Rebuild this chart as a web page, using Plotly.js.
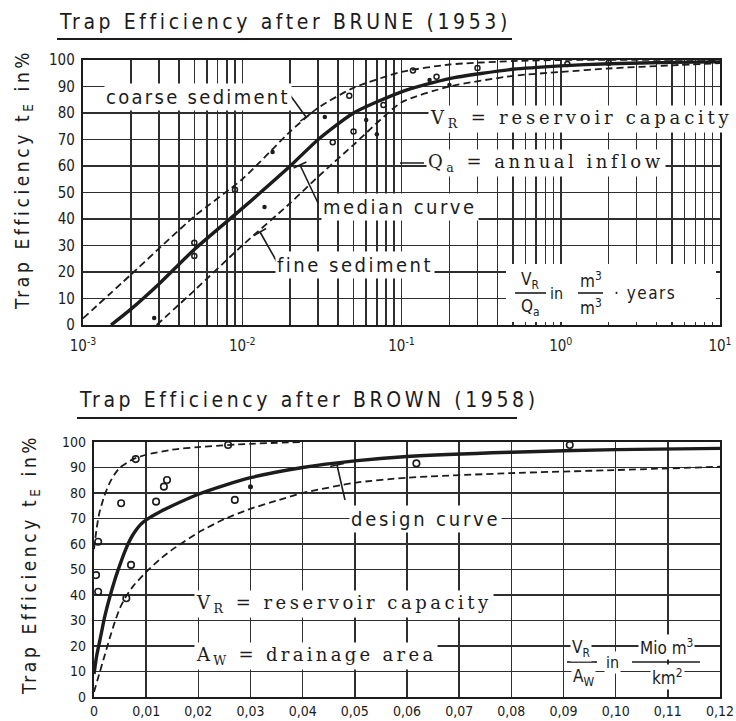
<!DOCTYPE html>
<html><head><meta charset="utf-8">
<script src="https://cdn.plot.ly/plotly-3.0.1.min.js"></script>
<style>html,body{margin:0;padding:0;background:#fff}#chart{width:736px;height:721px}</style>
</head><body><div id="chart"></div>
<script>
// ===== Brune (1953) : trap efficiency vs VR/Qa (log) =====
const bruneMedianX = [0.0015, 0.002, 0.003, 0.005, 0.01, 0.02, 0.03, 0.05, 0.1, 0.2, 0.5, 1, 2, 5, 10];
const bruneMedianY = [0, 6, 15.5, 28.5, 44, 60, 70, 80, 88, 93, 96.5, 97.8, 98.6, 99.1, 99.3];
const bruneCoarseX = [0.001, 0.002, 0.005, 0.01, 0.02, 0.03, 0.05, 0.1, 0.2, 0.5, 1, 10];
const bruneCoarseY = [2.5, 19, 41, 55, 73, 82, 89.5, 95.5, 98.3, 99.6, 100, 100];
const bruneFineX = [0.0029, 0.005, 0.01, 0.02, 0.03, 0.05, 0.1, 0.2, 0.5, 1, 2, 5, 10];
const bruneFineY = [0, 13, 30, 46, 56, 68, 84, 90, 94, 95.5, 96.8, 98, 98.8];
const bruneDotsX = [0.0028, 0.0138, 0.0155, 0.033, 0.06, 0.07, 0.15, 0.2];
const bruneDotsY = [2.6, 44.5, 65.3, 78.5, 77.4, 72, 92.5, 90.6];
const bruneCirclesX = [0.005, 0.005, 0.009, 0.037, 0.047, 0.05, 0.077, 0.166, 0.118, 0.3, 1.1, 2];
const bruneCirclesY = [31, 26, 51, 69, 86.5, 73, 83, 93.7, 96, 97, 98.5, 99];
const bruneDecades = [0.001, 0.01, 0.1, 1, 10];
const bruneDecadeLabels = ['10<sup>-3</sup>', '10<sup>-2</sup>', '10<sup>-1</sup>', '10<sup>0</sup>', '10<sup>1</sup>'];
const bruneMantissas = [2, 3, 4, 5, 6, 7, 8, 9];

// ===== Brown (1958) : trap efficiency vs VR/AW (linear) =====
const brownDesignX = [0, 0.0005, 0.001, 0.0015, 0.002, 0.003, 0.004, 0.005, 0.006, 0.007, 0.008, 0.009, 0.01, 0.0125, 0.015, 0.02, 0.025, 0.03, 0.04, 0.05, 0.06, 0.08, 0.1, 0.12];
const brownDesignY = [9, 16, 21, 26, 31, 39, 46, 52, 57.5, 62, 65.3, 67.8, 69.5, 72.5, 75, 79.5, 83, 86, 90, 92.6, 94.3, 96, 97, 97.5];
const brownUpperX = [0, 0.0005, 0.001, 0.002, 0.003, 0.004, 0.005, 0.0075, 0.01, 0.015, 0.02, 0.03, 0.04];
const brownUpperY = [58, 66, 72, 79, 84, 87.5, 90, 93.3, 95, 97, 98, 99.3, 100];
const brownLowerX = [0, 0.001, 0.002, 0.003, 0.004, 0.005, 0.006, 0.0075, 0.01, 0.0125, 0.015, 0.02, 0.025, 0.03, 0.035, 0.04, 0.05, 0.06, 0.08, 0.1, 0.12];
const brownLowerY = [2, 9, 16, 23, 29.5, 35, 39, 43.5, 49, 53.8, 57.8, 64.5, 69.8, 73.8, 77, 80, 84, 86, 87.8, 89, 90.3];
const brownCirclesX = [0.0257, 0.008, 0.014, 0.0134, 0.0052, 0.0119, 0.027, 0.0008, 0.0071, 0.0004, 0.0008, 0.0062, 0.0618, 0.0912];
const brownCirclesY = [98.8, 93.3, 85.1, 82.5, 76, 76.6, 77.3, 60.9, 51.8, 47.8, 41.3, 38.7, 91.6, 98.8];
const brownDotsX = [0.03];
const brownDotsY = [82.5];
const brownTickVals = [0, 0.01, 0.02, 0.03, 0.04, 0.05, 0.06, 0.07, 0.08, 0.09, 0.10, 0.11, 0.12];
const brownTickText = ['0', '0,01', '0,02', '0,03', '0,04', '0,05', '0,06', '0,07', '0,08', '0,09', '0,10', '0,11', '0,12'];
const percentTicks = [0, 10, 20, 30, 40, 50, 60, 70, 80, 90, 100];

// ---------- layout helpers ----------
const W = 736, H = 721;
const px = v => v / W;
const py = v => 1 - v / H;
const INK = '#1c1c1c';
const GRID = '#2e2e2e';
const SANS = '"DejaVu Sans Condensed", "DejaVu Sans", sans-serif';
const TYPE = '"DejaVu Serif", "Liberation Serif", serif';

// minor log grid (2..9 per decade)
const logMinor = [];
bruneDecades.slice(0, -1).forEach(d => bruneMantissas.forEach(m => logMinor.push(d * m)));

const solid = {color: INK, width: 3.4, shape: 'spline', smoothing: 0.6};
const dashed = {color: INK, width: 1.8, dash: '7px,4px', shape: 'spline', smoothing: 0.6};

const traces = [
  {x: bruneCoarseX, y: bruneCoarseY, mode: 'lines', line: dashed, xaxis: 'x', yaxis: 'y'},
  {x: bruneFineX, y: bruneFineY, mode: 'lines', line: dashed, xaxis: 'x', yaxis: 'y'},
  {x: bruneMedianX, y: bruneMedianY, mode: 'lines', line: solid, xaxis: 'x', yaxis: 'y'},
  {x: bruneDotsX, y: bruneDotsY, mode: 'markers', marker: {color: INK, size: 4.5}, xaxis: 'x', yaxis: 'y'},
  {x: bruneCirclesX, y: bruneCirclesY, mode: 'markers', marker: {symbol: 'circle-open', color: INK, size: 5, line: {width: 1.5, color: INK}}, xaxis: 'x', yaxis: 'y'},
  {x: brownUpperX, y: brownUpperY, mode: 'lines', line: dashed, xaxis: 'x2', yaxis: 'y2'},
  {x: brownLowerX, y: brownLowerY, mode: 'lines', line: dashed, xaxis: 'x2', yaxis: 'y2'},
  {x: brownDesignX, y: brownDesignY, mode: 'lines', line: solid, xaxis: 'x2', yaxis: 'y2'},
  {x: brownCirclesX, y: brownCirclesY, mode: 'markers', marker: {symbol: 'circle-open', color: INK, size: 6.5, line: {width: 1.6, color: INK}}, xaxis: 'x2', yaxis: 'y2'},
  {x: brownDotsX, y: brownDotsY, mode: 'markers', marker: {color: INK, size: 5}, xaxis: 'x2', yaxis: 'y2'}
];

const axisCommon = {
  showgrid: true, gridcolor: GRID, gridwidth: 1.5, zeroline: false,
  showline: true, mirror: true, linecolor: INK, linewidth: 2.2, ticks: '', ticklen: 0,
  fixedrange: true
};
const tickFont = {family: SANS, size: 15, color: INK};

function ann(text, x, y, o) {
  return Object.assign({text: text, x: px(x), y: py(y), xref: 'paper', yref: 'paper', showarrow: false,
    xanchor: 'left', yanchor: 'middle', font: {family: SANS, size: 20, color: INK}}, o || {});
}
function ls(s, sp) { return '<span style="letter-spacing:' + sp + 'px">' + s + '</span>'; }
function line(x0, y0, x1, y1, w) {
  return {type: 'line', xref: 'paper', yref: 'paper', x0: px(x0), y0: py(y0), x1: px(x1), y1: py(y1),
    line: {color: INK, width: w || 1.6}, layer: 'above'};
}
function tbar(x0, y0, x1, y1, half) {
  const dx = x1 - x0, dy = y1 - y0, L = Math.hypot(dx, dy);
  const nx = -dy / L, ny = dx / L;
  return [line(x0, y0, x1, y1), line(x1 - nx * half, y1 - ny * half, x1 + nx * half, y1 + ny * half)];
}

const shapes = [
  line(57, 39, 512, 39, 2),
  line(77, 418, 517, 418, 2),
  {type: 'rect', xref: 'paper', yref: 'paper', x0: px(506), x1: px(716), y0: py(322), y1: py(264),
    fillcolor: '#ffffff', line: {width: 0}, layer: 'above'},
  ...tbar(290, 95, 306, 117, 7),
  ...tbar(318, 203, 300, 165, 7),
  ...tbar(277, 262, 260, 232, 7),
  ...tbar(345, 500, 337, 465, 7),
  line(400, 163, 424, 163, 1.5),
  line(515, 293, 546, 293, 1.6),
  line(578, 293, 603, 293, 1.6),
  line(567, 662, 597, 662, 1.6),
  line(632, 662, 700, 662, 1.6)
];

const wbg = {bgcolor: '#ffffff', borderpad: 1};
const typeFont = {family: TYPE, size: 18, color: INK};
const annotations = [
  ann(ls('Trap Efficiency after BRUNE (1953)', 3.6), 57, 22, {font: {family: SANS, size: 21, color: INK}}),
  ann(ls('Trap Efficiency after BROWN (1958)', 3.6), 77, 400, {font: {family: SANS, size: 21, color: INK}}),
  ann(ls('Trap Efficiency t<sub>E</sub> in%', 3.6), 23, 180, {xanchor: 'center', textangle: -90, font: {family: SANS, size: 19, color: INK}}),
  ann(ls('Trap Efficiency t<sub>E</sub> in%', 3.6), 30, 565, {xanchor: 'center', textangle: -90, font: {family: SANS, size: 19, color: INK}}),
  ann(ls('coarse sediment', 2.3), 104, 97, wbg),
  ann(ls('median curve', 2.5), 321, 207, wbg),
  ann(ls('fine sediment', 2.5), 275, 265, wbg),
  ann(ls('V<sub>R</sub> = reservoir capacity', 3.8), 428, 119, Object.assign({font: typeFont}, wbg)),
  ann(ls('Q<sub>a</sub> = annual inflow', 3.5), 426, 163, Object.assign({font: typeFont}, wbg)),
  ann('V<sub>R</sub>', 530, 280, {xanchor: 'center', font: {family: SANS, size: 17, color: INK}}),
  ann('Q<sub>a</sub>', 530, 307, {xanchor: 'center', font: {family: SANS, size: 17, color: INK}}),
  ann('in', 556, 293, {xanchor: 'center', font: {family: SANS, size: 16, color: INK}}),
  ann('m<sup>3</sup>', 591, 280, {xanchor: 'center', font: {family: SANS, size: 17, color: INK}}),
  ann('m<sup>3</sup>', 591, 307, {xanchor: 'center', font: {family: SANS, size: 17, color: INK}}),
  ann(ls('· years', 1.5), 612, 293, {font: {family: SANS, size: 17, color: INK}}),
  ann(ls('design curve', 2.8), 349, 519, wbg),
  ann(ls('V<sub>R</sub> = reservoir capacity', 3.5), 194, 604, Object.assign({font: typeFont}, wbg)),
  ann(ls('A<sub>W</sub> = drainage area', 3.3), 194, 656, Object.assign({font: typeFont}, wbg)),
  ann('V<sub>R</sub>', 581, 648, Object.assign({xanchor: 'center', font: {family: SANS, size: 17, color: INK}}, wbg)),
  ann('A<sub>W</sub>', 583, 677, Object.assign({xanchor: 'center', font: {family: SANS, size: 17, color: INK}}, wbg)),
  ann('in', 612, 662, Object.assign({xanchor: 'center', font: {family: SANS, size: 16, color: INK}}, wbg)),
  ann('Mio m<sup>3</sup>', 666, 647, Object.assign({xanchor: 'center', font: {family: SANS, size: 17, color: INK}}, wbg)),
  ann('km<sup>2</sup>', 667, 677, Object.assign({xanchor: 'center', font: {family: SANS, size: 17, color: INK}}, wbg))
];

const layout = {
  width: W, height: H,
  margin: {l: 0, r: 0, t: 0, b: 0},
  paper_bgcolor: '#ffffff', plot_bgcolor: '#ffffff',
  showlegend: false,
  xaxis: Object.assign({}, axisCommon, {
    type: 'log', range: [-3, 1], domain: [px(83), px(720)], anchor: 'y',
    tickmode: 'array', tickvals: bruneDecades, ticktext: bruneDecadeLabels, tickfont: tickFont, ticklabelstandoff: 6,
    minor: {tickmode: 'array', tickvals: logMinor, showgrid: true, gridcolor: GRID, gridwidth: 1.5, ticks: ''}
  }),
  yaxis: Object.assign({}, axisCommon, {
    range: [0, 100], domain: [py(325), py(60)], anchor: 'x',
    tickmode: 'array', tickvals: percentTicks, tickfont: tickFont, ticklabelstandoff: 3
  }),
  xaxis2: Object.assign({}, axisCommon, {
    range: [0, 0.12], domain: [px(94), px(720)], anchor: 'y2',
    tickmode: 'array', tickvals: brownTickVals, ticktext: brownTickText,
    tickfont: {family: SANS, size: 14, color: INK}, ticklabelstandoff: 0
  }),
  yaxis2: Object.assign({}, axisCommon, {
    range: [0, 100], domain: [py(697), py(442)], anchor: 'x2',
    tickmode: 'array', tickvals: percentTicks, tickfont: {family: SANS, size: 14, color: INK}, ticklabelstandoff: 3
  }),
  shapes: shapes,
  annotations: annotations
};

Plotly.newPlot('chart', traces, layout, {displayModeBar: false, staticPlot: true});
</script></body></html>
